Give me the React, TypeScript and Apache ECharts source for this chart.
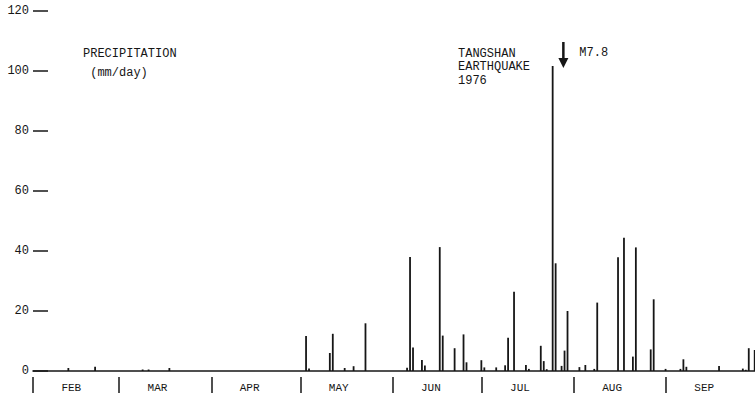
import React, { useEffect, useRef } from 'react';
import * as echarts from 'echarts';

// Months shown on the time axis (1976, a leap year)
const monthNames = ['FEB', 'MAR', 'APR', 'MAY', 'JUN', 'JUL', 'AUG', 'SEP'];
const monthLengths = [29, 31, 30, 31, 30, 31, 31, 30];
const firstMonth = 2; // February

// Y ticks
const yMin = 0;
const yMax = 120;
const yStep = 20;

// Daily precipitation (mm/day), dates as MM-DD in 1976
const rainDates = [
  '02-12', '02-21', '03-08', '03-10', '03-17',
  '05-02', '05-03', '05-10', '05-11', '05-15', '05-18', '05-22',
  '06-05', '06-06', '06-07', '06-10', '06-11', '06-16', '06-17', '06-21', '06-24', '06-25', '06-30',
  '07-01', '07-05', '07-08', '07-09', '07-11', '07-15', '07-16', '07-20', '07-21', '07-22', '07-24', '07-25', '07-27', '07-28', '07-29',
  '08-02', '08-04', '08-07', '08-08', '08-15', '08-17', '08-20', '08-21', '08-26', '08-27', '08-31',
  '09-05', '09-06', '09-07', '09-18', '09-26', '09-27', '09-28', '09-30',
];
const rainMm = [
  1, 1.4, 0.5, 0.5, 1,
  11.7, 0.8, 6, 12.4, 1, 1.6, 15.9,
  1.1, 38, 7.8, 3.7, 1.8, 41.3, 11.8, 7.6, 12.2, 2.9, 3.6,
  1.2, 1.2, 1.9, 11.1, 26.4, 2, 0.7, 8.4, 3.3, 0.6, 101.7, 35.9, 1.7, 6.8, 20,
  1.3, 2, 0.7, 22.8, 37.9, 44.4, 4.8, 41.2, 7.2, 23.9, 0.7,
  0.7, 3.9, 1.4, 1.7, 0.8, 0.4, 7.6, 7,
];

// Annotations
const titleLines = ['PRECIPITATION', ' (mm/day)'];
const quakeLines = ['TANGSHAN', 'EARTHQUAKE', '1976'];
const quakeDate = '07-28';
const quakeMagnitude = 'M7.8';

const monthStarts: number[] = [];
{
  let acc = 0;
  for (const len of monthLengths) {
    monthStarts.push(acc);
    acc += len;
  }
}
const totalDays = monthLengths.reduce((a, b) => a + b, 0);
const labelPositions = monthStarts.map((s) => s + 12.9);

function dayIndex(mmdd: string): number {
  const [m, d] = mmdd.split('-').map(Number);
  return monthStarts[m - firstMonth] + d - 1;
}

const INK = '#161616';
const FONT = '"Liberation Mono", "DejaVu Sans Mono", monospace';

export default function App() {
  const ref = useRef<HTMLDivElement>(null);

  useEffect(() => {
    if (!ref.current) return;
    const chart = echarts.init(ref.current, undefined, { renderer: 'svg' });
    const data = rainDates.map((d, i) => [dayIndex(d) + 0.9, rainMm[i]]);

    chart.setOption({
      animation: false,
      backgroundColor: '#ffffff',
      grid: { left: 33, right: 0, top: 11, bottom: 27, containLabel: false },
      xAxis: [
        {
          type: 'value',
          min: 0,
          max: totalDays,
          axisLine: { show: true, lineStyle: { color: INK, width: 1.6 } },
          axisTick: { show: false },
          axisLabel: { show: false },
          splitLine: { show: false },
        },
        {
          type: 'value',
          min: 0,
          max: totalDays,
          position: 'bottom',
          offset: 6,
          axisLine: { show: false },
          axisTick: {
            show: true,
            customValues: monthStarts,
            length: 16,
            lineStyle: { color: INK, width: 1.5 },
          },
          axisLabel: {
            show: true,
            customValues: labelPositions,
            margin: 5,
            color: INK,
            fontFamily: FONT,
            fontSize: 11,
            formatter: (v: number) => {
              const i = labelPositions.findIndex((p) => Math.abs(p - v) < 0.01);
              return i >= 0 ? monthNames[i] : '';
            },
          },
          splitLine: { show: false },
        },
      ],
      yAxis: {
        type: 'value',
        min: yMin,
        max: yMax,
        interval: yStep,
        axisLine: { show: false },
        axisTick: { show: true, inside: true, length: 15, lineStyle: { color: INK, width: 1.5 } },
        axisLabel: { color: INK, fontFamily: FONT, fontSize: 12, margin: 4 },
        splitLine: { show: false },
      },
      series: [
        {
          type: 'bar',
          xAxisIndex: 0,
          data,
          barWidth: 1.8,
          itemStyle: { color: INK },
        },
      ],
    });

    const arrowX = chart.convertToPixel({ xAxisIndex: 0 }, dayIndex(quakeDate) + 0.5) as number;

    chart.setOption({
      graphic: [
        {
          type: 'text',
          left: 83,
          top: 44,
          style: {
            text: titleLines.join('\n'),
            font: `12px ${FONT}`,
            fill: INK,
            lineHeight: 19,
          },
        },
        {
          type: 'text',
          left: 458,
          top: 47,
          style: {
            text: quakeLines.join('\n'),
            font: `12px ${FONT}`,
            fill: INK,
            lineHeight: 13.5,
          },
        },
        {
          type: 'text',
          left: arrowX + 16,
          top: 47,
          style: { text: quakeMagnitude, font: `12px ${FONT}`, fill: INK },
        },
        {
          type: 'line',
          shape: { x1: arrowX, y1: 42, x2: arrowX, y2: 60 },
          style: { stroke: INK, lineWidth: 2.5 },
        },
        {
          type: 'polygon',
          shape: { points: [[arrowX - 5, 58], [arrowX + 5, 58], [arrowX, 68]] },
          style: { fill: INK },
        },
      ],
    });

    return () => chart.dispose();
  }, []);

  return (
    <div
      ref={ref}
      style={{ position: 'fixed', left: 0, top: 0, width: 755, height: 398, background: '#fff' }}
    />
  );
}
